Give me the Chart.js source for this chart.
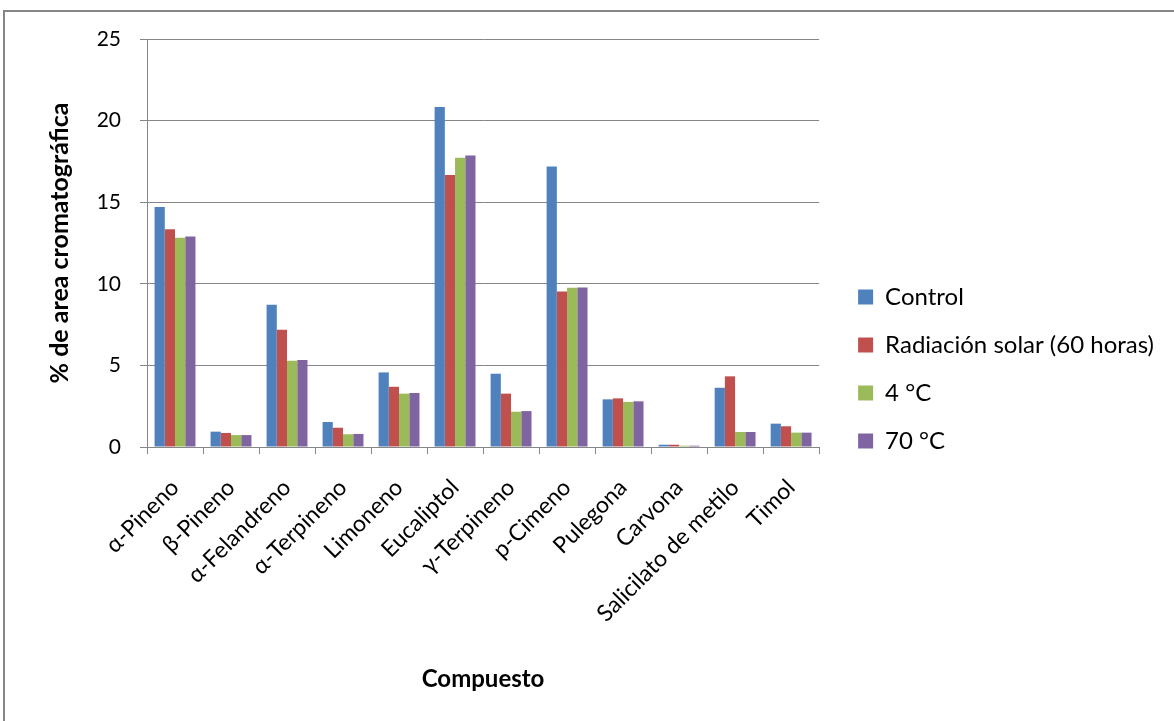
<!DOCTYPE html>
<html>
<head>
<meta charset="utf-8">
<script src="https://cdn.jsdelivr.net/npm/chart.js@4.4.1/dist/chart.umd.min.js"></script>
<style>
  html, body { margin: 0; padding: 0; background: #ffffff; }
  #wrap { position: absolute; left: 0; top: 0; width: 1174px; height: 721px; }
</style>
</head>
<body>
<div id="wrap"><canvas id="chart" width="1174" height="721"></canvas></div>
<script>
// Compounds on the category axis
const compuestos = ['α-Pineno', 'β-Pineno', 'α-Felandreno', 'α-Terpineno', 'Limoneno', 'Eucaliptol',
  'γ-Terpineno', 'p-Cimeno', 'Pulegona', 'Carvona', 'Salicilato de metilo', 'Timol'];

// % chromatographic area per treatment
const control = [14.71, 0.94, 8.71, 1.53, 4.57, 20.84, 4.49, 17.18, 2.92, 0.14, 3.63, 1.43];
const radiacionSolar = [13.35, 0.86, 7.18, 1.18, 3.69, 16.67, 3.27, 9.53, 2.98, 0.14, 4.33, 1.27];
const frio4C = [12.82, 0.73, 5.29, 0.78, 3.27, 17.73, 2.16, 9.76, 2.76, 0.08, 0.92, 0.88];
const calor70C = [12.90, 0.73, 5.33, 0.80, 3.31, 17.86, 2.20, 9.78, 2.80, 0.08, 0.92, 0.88];

const seriesNames = ['Control', 'Radiación solar (60 horas)', '4 °C', '70 °C'];
const yTicks = [0, 5, 10, 15, 20, 25];

const FONT = 'Lato, "Open Sans", sans-serif';
const GRID = '#868686';

// Outer frame around the whole chart
const framePlugin = {
  id: 'frame',
  beforeDraw(chart) {
    const ctx = chart.ctx;
    ctx.save();
    ctx.fillStyle = '#ffffff';
    ctx.fillRect(0, 0, chart.width, chart.height);
    ctx.strokeStyle = GRID;
    ctx.lineWidth = 2;
    ctx.strokeRect(4, 11, chart.width + 20, chart.height + 20);
    ctx.restore();
  }
};

// Empty spacer axes that only reserve room around the plot area
const spacer = (size, horizontal) => ({
  display: true,
  grid: { display: false, drawTicks: false },
  border: { display: false },
  ticks: { display: false },
  afterFit(scale) { if (horizontal) { scale.height = size; } else { scale.width = size; } }
});

new Chart(document.getElementById('chart'), {
  type: 'bar',
  data: {
    labels: compuestos,
    datasets: [
      { label: seriesNames[0], data: control, backgroundColor: '#4F81BD' },
      { label: seriesNames[1], data: radiacionSolar, backgroundColor: '#C0504D' },
      { label: seriesNames[2], data: frio4C, backgroundColor: '#9BBB59' },
      { label: seriesNames[3], data: calor70C, backgroundColor: '#8064A2' }
    ]
  },
  options: {
    responsive: false,
    animation: false,
    datasets: { bar: { barPercentage: 1.0, categoryPercentage: 0.73, borderWidth: 0 } },
    layout: { padding: { left: 0, top: 17, right: 10, bottom: 0 } },
    plugins: {
      legend: {
        position: 'right',
        align: 'center',
        maxWidth: 420,
        labels: {
          boxWidth: 15,
          boxHeight: 15,
          padding: 24,
          color: '#000000',
          font: { family: FONT, size: 24 }
        }
      },
      tooltip: { enabled: false }
    },
    scales: {
      x: {
        offset: true,
        grid: { display: true, drawOnChartArea: false, drawTicks: true, tickLength: 7, offset: true, color: GRID, lineWidth: 1 },
        border: { display: true, color: GRID, width: 1 },
        ticks: { color: '#000000', font: { family: FONT, size: 23 }, minRotation: 45, maxRotation: 45, padding: 20, autoSkip: false },
        title: { display: true, text: 'Compuesto', color: '#000000', font: { family: FONT, size: 24, weight: 'bold' }, padding: { top: 0, bottom: 27 } },
        afterFit(scale) { scale.height = 274; }
      },
      xTop: Object.assign({ type: 'category', position: 'top' }, spacer(22, true)),
      y: {
        min: 0,
        max: 25,
        afterBuildTicks(scale) { scale.ticks = yTicks.map(v => ({ value: v })); },
        grid: { color: GRID, lineWidth: 1, drawTicks: true, tickLength: 7 },
        border: { display: true, color: GRID, width: 1 },
        ticks: { color: '#000000', font: { family: FONT, size: 21 }, padding: 19 },
        title: { display: true, text: '% de area cromatográfica', color: '#000000', font: { family: FONT, size: 25, weight: 'bold' }, padding: { top: 45, bottom: 0 } },
        afterFit(scale) { scale.width = 147; }
      },
      yRight: Object.assign({ type: 'linear', position: 'right' }, spacer(15, false))
    }
  },
  plugins: [framePlugin]
});
</script>
</body>
</html>
